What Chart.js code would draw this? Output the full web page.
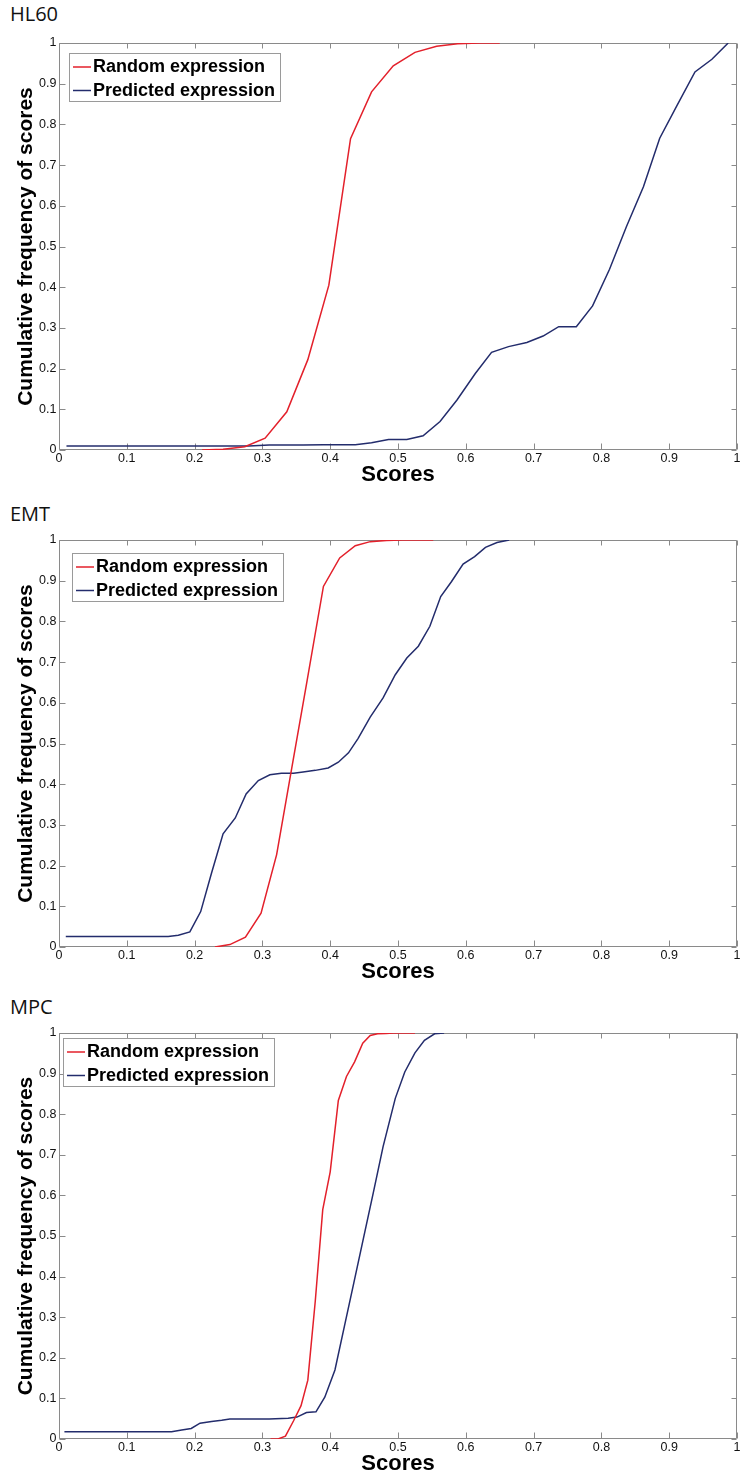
<!DOCTYPE html>
<html>
<head>
<meta charset="utf-8">
<script src="https://cdn.jsdelivr.net/npm/chart.js@4.4.0/dist/chart.umd.min.js"></script>
<style>
  html, body { margin: 0; padding: 0; background: #ffffff; overflow: hidden; width: 742px; height: 1478px; }
  .panel-title { position: absolute; left: 10px; font-family: 'Open Sans', 'Noto Sans', sans-serif; font-size: 20px; line-height: 20px; color: #111; white-space: nowrap; }
  .wrap { position: absolute; left: 0; width: 742px; }
  canvas { display: block; }
</style>
</head>
<body>
<script>
// ---------------- DATA ----------------
const panelTitles = ['HL60', 'EMT', 'MPC'];
const seriesLabels = ['Random expression', 'Predicted expression'];
const xAxisTitle = 'Scores';
const yAxisTitle = 'Cumulative frequency of scores';
const xTickValues = [0, 0.1, 0.2, 0.3, 0.4, 0.5, 0.6, 0.7, 0.8, 0.9, 1];
const xTickLabels = ['0', '0.1', '0.2', '0.3', '0.4', '0.5', '0.6', '0.7', '0.8', '0.9', '1'];
const yTickValues = [0, 0.1, 0.2, 0.3, 0.4, 0.5, 0.6, 0.7, 0.8, 0.9, 1];
const yTickLabels = ['0', '0.1', '0.2', '0.3', '0.4', '0.5', '0.6', '0.7', '0.8', '0.9', '1'];

// HL60
const hl60RandomX = [0.211, 0.242, 0.274, 0.304, 0.336, 0.367, 0.398, 0.430, 0.461, 0.493, 0.525, 0.557, 0.588, 0.620, 0.650];
const hl60RandomY = [0.000, 0.002, 0.008, 0.029, 0.094, 0.222, 0.405, 0.765, 0.880, 0.944, 0.977, 0.992, 0.998, 1.000, 1.000];
const hl60PredX = [0.011, 0.05, 0.10, 0.15, 0.20, 0.25, 0.28, 0.31, 0.36, 0.39, 0.41, 0.437, 0.461, 0.486, 0.513, 0.537, 0.562, 0.587, 0.614, 0.638, 0.663, 0.690, 0.714, 0.737, 0.763, 0.787, 0.812, 0.837, 0.862, 0.886, 0.911, 0.938, 0.963, 0.987];
const hl60PredY = [0.010, 0.010, 0.010, 0.010, 0.010, 0.010, 0.010, 0.012, 0.012, 0.013, 0.013, 0.013, 0.018, 0.026, 0.026, 0.035, 0.070, 0.123, 0.188, 0.240, 0.254, 0.264, 0.280, 0.303, 0.303, 0.354, 0.444, 0.549, 0.647, 0.766, 0.845, 0.929, 0.960, 1.000];

// EMT
const emtRandomX = [0.230, 0.252, 0.275, 0.298, 0.321, 0.342, 0.366, 0.390, 0.414, 0.437, 0.459, 0.483, 0.506, 0.529, 0.552];
const emtRandomY = [0.000, 0.006, 0.024, 0.083, 0.227, 0.427, 0.655, 0.886, 0.956, 0.986, 0.996, 0.999, 1.000, 1.000, 1.000];
const emtPredX = [0.010, 0.05, 0.10, 0.161, 0.176, 0.193, 0.209, 0.225, 0.242, 0.260, 0.276, 0.294, 0.311, 0.328, 0.346, 0.360, 0.378, 0.397, 0.412, 0.427, 0.441, 0.459, 0.478, 0.496, 0.513, 0.530, 0.547, 0.563, 0.579, 0.596, 0.613, 0.629, 0.646, 0.664];
const emtPredY = [0.026, 0.026, 0.026, 0.026, 0.029, 0.037, 0.087, 0.182, 0.278, 0.317, 0.376, 0.409, 0.423, 0.427, 0.427, 0.430, 0.434, 0.440, 0.454, 0.477, 0.512, 0.565, 0.612, 0.669, 0.710, 0.739, 0.788, 0.861, 0.898, 0.941, 0.959, 0.982, 0.994, 1.000];

// MPC
const mpcRandomX = [0.312, 0.323, 0.334, 0.346, 0.357, 0.367, 0.378, 0.389, 0.400, 0.412, 0.424, 0.436, 0.448, 0.459, 0.470, 0.482, 0.493, 0.525];
const mpcRandomY = [0.000, 0.000, 0.007, 0.045, 0.082, 0.145, 0.340, 0.565, 0.658, 0.834, 0.893, 0.929, 0.975, 0.994, 0.998, 0.999, 1.000, 1.000];
const mpcPredX = [0.008, 0.05, 0.10, 0.166, 0.181, 0.195, 0.208, 0.225, 0.240, 0.252, 0.28, 0.31, 0.338, 0.351, 0.365, 0.379, 0.392, 0.407, 0.421, 0.435, 0.449, 0.464, 0.478, 0.496, 0.510, 0.525, 0.539, 0.554, 0.568];
const mpcPredY = [0.018, 0.018, 0.018, 0.018, 0.022, 0.026, 0.039, 0.043, 0.046, 0.049, 0.049, 0.049, 0.051, 0.054, 0.065, 0.067, 0.103, 0.170, 0.278, 0.386, 0.494, 0.610, 0.720, 0.839, 0.904, 0.951, 0.982, 0.998, 1.000];

// ---------------- STYLE / LAYOUT ----------------
const RED = '#e3202b';
const BLUE = '#232c6c';
const FRAME = '#8a8a8a';
const TICK_FONT = '"Liberation Sans", Arial, Helvetica, sans-serif';

const panels = [
  { title: panelTitles[0], titleTop: 4,    canvasTop: 31,   height: 457, rx: hl60RandomX, ry: hl60RandomY, px: hl60PredX, py: hl60PredY, lg: { dx: 10, dy: 10 } },
  { title: panelTitles[1], titleTop: 504,  canvasTop: 528,  height: 457, rx: emtRandomX,  ry: emtRandomY,  px: emtPredX,  py: emtPredY,  lg: { dx: 13, dy: 12.7 } },
  { title: panelTitles[2], titleTop: 997,  canvasTop: 1021, height: 456, rx: mpcRandomX,  ry: mpcRandomY,  px: mpcPredX,  py: mpcPredY,  lg: { dx: 4,  dy: 5 } }
];

const zip = (xs, ys) => xs.map((x, i) => ({ x: x, y: ys[i] }));

// MATLAB-like box with inward ticks
const framePlugin = {
  id: 'matlabFrame',
  beforeDatasetsDraw(chart) {
    const { ctx, chartArea: a, scales } = chart;
    const L = Math.round(a.left) + 0.5, R = Math.round(a.right) - 0.5;
    const T = Math.round(a.top) + 0.5, B = Math.round(a.bottom) - 0.5;
    ctx.save();
    ctx.strokeStyle = FRAME;
    ctx.lineWidth = 1;
    ctx.beginPath();
    ctx.rect(L, T, R - L, B - T);
    scales.x.ticks.forEach(t => {
      const p = Math.round(scales.x.getPixelForValue(t.value)) + 0.5;
      ctx.moveTo(p, B); ctx.lineTo(p, B - 6);
      ctx.moveTo(p, T); ctx.lineTo(p, T + 5);
    });
    scales.y.ticks.forEach(t => {
      const p = Math.round(scales.y.getPixelForValue(t.value)) + 0.5;
      ctx.moveTo(L, p); ctx.lineTo(L + 6, p);
      ctx.moveTo(R, p); ctx.lineTo(R - 5, p);
    });
    ctx.stroke();
    ctx.restore();
  }
};

// Legend box drawn inside the plot area
const insideLegend = {
  id: 'insideLegend',
  afterDatasetsDraw(chart, args, opts) {
    const { ctx, chartArea: a } = chart;
    const x0 = Math.round(a.left + opts.dx), y0 = Math.round(a.top + opts.dy);
    const w = 211, h = 48;
    const rows = [14, 37.5];
    ctx.save();
    ctx.fillStyle = '#ffffff';
    ctx.fillRect(x0, y0, w, h);
    ctx.strokeStyle = '#9a9a9a';
    ctx.lineWidth = 1;
    ctx.strokeRect(x0 + 0.5, y0 + 0.5, w, h);
    ctx.font = 'bold 18px ' + TICK_FONT;
    ctx.textBaseline = 'middle';
    ctx.textAlign = 'left';
    chart.data.datasets.forEach((ds, i) => {
      const cy = y0 + rows[i];
      ctx.strokeStyle = ds.borderColor;
      ctx.lineWidth = 1.5;
      ctx.beginPath();
      ctx.moveTo(x0 + 4, cy);
      ctx.lineTo(x0 + 22, cy);
      ctx.stroke();
      ctx.fillStyle = '#000000';
      ctx.fillText(ds.label, x0 + 24, cy + 0.5);
    });
    ctx.restore();
  }
};

panels.forEach((p, idx) => {
  const t = document.createElement('div');
  t.className = 'panel-title';
  t.style.top = p.titleTop + 'px';
  t.textContent = p.title;
  document.body.appendChild(t);

  const wrap = document.createElement('div');
  wrap.className = 'wrap';
  wrap.style.top = p.canvasTop + 'px';
  wrap.style.height = p.height + 'px';
  const cv = document.createElement('canvas');
  cv.width = 742; cv.height = p.height;
  cv.style.width = '742px'; cv.style.height = p.height + 'px';
  wrap.appendChild(cv);
  document.body.appendChild(wrap);

  new Chart(cv.getContext('2d'), {
    type: 'line',
    data: {
      datasets: [
        { label: seriesLabels[0], data: zip(p.rx, p.ry), borderColor: RED, backgroundColor: RED, borderWidth: 1.5, pointRadius: 0, tension: 0, fill: false },
        { label: seriesLabels[1], data: zip(p.px, p.py), borderColor: BLUE, backgroundColor: BLUE, borderWidth: 1.5, pointRadius: 0, tension: 0, fill: false }
      ]
    },
    options: {
      responsive: false,
      devicePixelRatio: 1,
      animation: false,
      events: [],
      layout: { padding: { top: 12, right: 5, bottom: 0, left: 0 } },
      plugins: {
        legend: { display: false },
        tooltip: { enabled: false },
        insideLegend: p.lg
      },
      scales: {
        x: {
          type: 'linear', min: 0, max: 1,
          afterBuildTicks: s => { s.ticks = xTickValues.map(v => ({ value: v })); },
          afterFit: s => { s.height = 38; },
          grid: { display: false, drawTicks: false },
          border: { display: false },
          ticks: {
            autoSkip: false, maxRotation: 0, padding: 1.5, color: '#111',
            font: { family: TICK_FONT, size: 12.5 },
            callback: (v, i) => xTickLabels[i]
          },
          title: {
            display: true, text: xAxisTitle, color: '#000',
            font: { family: TICK_FONT, size: 22, weight: 'bold' },
            padding: { top: 0, bottom: 0 }
          }
        },
        y: {
          type: 'linear', min: 0, max: 1,
          afterBuildTicks: s => { s.ticks = yTickValues.map(v => ({ value: v })); },
          afterFit: s => { s.width = 59; },
          grid: { display: false, drawTicks: false },
          border: { display: false },
          ticks: {
            autoSkip: false, padding: 2.5, color: '#111',
            font: { family: TICK_FONT, size: 12.5 },
            callback: (v, i) => yTickLabels[i]
          },
          title: {
            display: true, text: yAxisTitle, color: '#000',
            font: { family: TICK_FONT, size: 21, weight: 'bold' },
            padding: { top: 14, bottom: 0 }
          }
        }
      }
    },
    plugins: [framePlugin, insideLegend]
  });
});
</script>
</body>
</html>
